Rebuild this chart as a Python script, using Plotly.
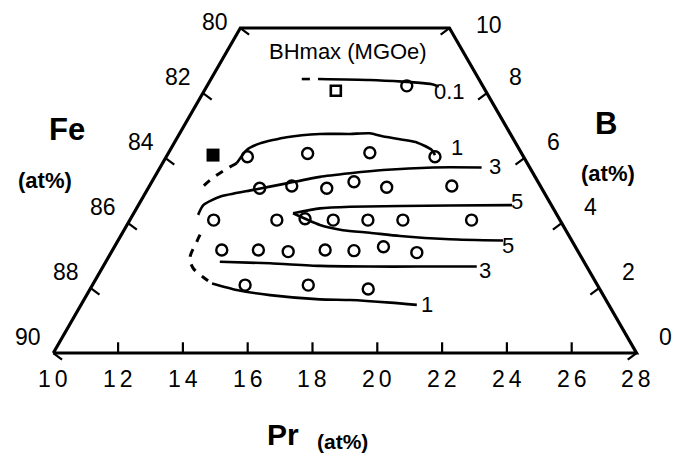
import math
import plotly.graph_objects as go

# ---------------- data ----------------
pr_ticks = [10, 12, 14, 16, 18, 20, 22, 24, 26, 28]
fe_ticks = [80, 82, 84, 86, 88, 90]
b_ticks = [10, 8, 6, 4, 2, 0]

# measured compositions (Pr at%, B at%)
circ_pr = [20.91,
           15.99, 17.85, 19.77, 21.78,
           16.37, 17.36, 18.44, 19.28, 20.29, 22.30,
           14.95, 16.90, 17.77, 18.64, 19.71, 20.79, 22.91,
           15.20, 16.33, 17.25, 18.39, 19.28, 20.19, 21.22,
           15.92, 17.87, 19.72]
circ_b = [8.22,
          6.04, 6.14, 6.16, 6.04,
          5.07, 5.14, 5.07, 5.27, 5.10, 5.14,
          4.09, 4.09, 4.13, 4.09, 4.09, 4.09, 4.09,
          3.17, 3.17, 3.12, 3.17, 3.15, 3.27, 3.09,
          2.09, 2.09, 1.97]
open_sq_pr = [18.72]
open_sq_b = [8.07]
fill_sq_pr = [14.93]
fill_sq_b = [6.09]

# BHmax contours (MGOe)
c01_dash_pr = [17.67, 17.92]
c01_dash_b = [8.43, 8.43]
c01_pr = [18.17, 19.77, 20.79, 21.22, 21.69, 21.90]
c01_b = [8.43, 8.40, 8.35, 8.32, 8.27, 8.20]

c1u_pr = [15.66, 15.97, 16.38, 17.20, 18.23, 19.16, 19.77, 20.19, 21.22, 21.68, 21.78]
c1u_b = [5.84, 6.25, 6.45, 6.64, 6.74, 6.74, 6.76, 6.66, 6.48, 6.25, 6.09]
c1d1_pr = [15.66, 15.24, 14.84, 14.47]
c1d1_b = [5.84, 5.60, 5.32, 4.98]
c1d2_pr = [14.53, 14.44, 14.22, 14.31, 14.62, 14.90]
c1d2_b = [3.64, 3.45, 2.93, 2.62, 2.34, 2.14]
c1l_pr = [14.90, 15.66, 16.69, 18.23, 19.16, 20.40, 21.22]
c1l_b = [2.14, 1.94, 1.78, 1.65, 1.63, 1.55, 1.48]

c3u_pr = [14.47, 14.63, 15.14, 16.17, 17.20, 18.23, 19.16, 20.18, 21.72, 23.22]
c3u_b = [4.25, 4.55, 4.81, 5.02, 5.22, 5.42, 5.53, 5.63, 5.71, 5.71]
c3l_pr = [15.14, 16.69, 18.23, 19.77, 21.22, 23.07]
c3l_b = [2.81, 2.76, 2.68, 2.66, 2.66, 2.66]

c5u_pr = [17.40, 18.23, 19.16, 22.24, 24.16]
c5u_b = [4.30, 4.45, 4.50, 4.54, 4.55]
c5l_pr = [17.40, 18.23, 18.94, 19.77, 20.70, 22.24, 23.88]
c5l_b = [4.30, 3.94, 3.78, 3.70, 3.60, 3.50, 3.46]

contour_labels = ["0.1", "1", "3", "5", "5", "3", "1"]
contour_label_pr = [22.24, 22.45, 23.63, 24.30, 24.03, 23.32, 21.52]
contour_label_b = [8.04, 6.33, 5.73, 4.66, 3.32, 2.55, 1.48]

# ---------------- geometry helpers ----------------
slant = 1 / math.sqrt(3)   # 60 degree side edges
pr_lo, pr_hi, b_top = pr_ticks[0], pr_ticks[-1], b_ticks[0]

def left_edge(b):
    return pr_lo + b * slant

def right_edge(b):
    return pr_hi - b * slant

FONT = "Liberation Sans, Arial, Helvetica, sans-serif"
BLACK = "black"

fig = go.Figure()

# frame
fig.add_trace(go.Scatter(
    x=[pr_lo, left_edge(b_top), right_edge(b_top), pr_hi, pr_lo],
    y=[0, b_top, b_top, 0, 0],
    mode="lines", line=dict(color=BLACK, width=3.2), hoverinfo="skip"))

# tick marks
tx, ty = [], []
for p in pr_ticks[1:-1]:
    tx += [p, p, None]
    ty += [0, 0.33, None]
for b in b_ticks:
    xl = left_edge(b)
    tx += [xl, xl + 0.27, None]
    ty += [b, b - 0.2, None]
    xr = right_edge(b)
    tx += [xr, xr - 0.27, None]
    ty += [b, b - 0.2, None]
fig.add_trace(go.Scatter(x=tx, y=ty, mode="lines",
                         line=dict(color=BLACK, width=2.2), hoverinfo="skip"))

# contours
line_style = dict(color=BLACK, width=2.6)
for xs, ys in [(c01_dash_pr, c01_dash_b), (c01_pr, c01_b), (c1u_pr, c1u_b),
               (c1l_pr, c1l_b), (c3u_pr, c3u_b), (c3l_pr, c3l_b),
               (c5u_pr, c5u_b), (c5l_pr, c5l_b)]:
    fig.add_trace(go.Scatter(x=xs, y=ys, mode="lines", line=dict(line_style, shape="spline", smoothing=0.6),
                             hoverinfo="skip"))
for xs, ys in [(c1d1_pr, c1d1_b), (c1d2_pr, c1d2_b)]:
    fig.add_trace(go.Scatter(x=xs, y=ys, mode="lines",
                             line=dict(color=BLACK, width=3, dash="8px,8px", shape="spline"),
                             hoverinfo="skip"))

# markers
fig.add_trace(go.Scatter(x=circ_pr, y=circ_b, mode="markers",
                         marker=dict(symbol="circle-open", size=11, color=BLACK,
                                     line=dict(width=2.4, color=BLACK)),
                         hoverinfo="skip"))
fig.add_trace(go.Scatter(x=open_sq_pr, y=open_sq_b, mode="markers",
                         marker=dict(symbol="square-open", size=10, color=BLACK,
                                     line=dict(width=2.6, color=BLACK)),
                         hoverinfo="skip"))
fig.add_trace(go.Scatter(x=fill_sq_pr, y=fill_sq_b, mode="markers",
                         marker=dict(symbol="square", size=13, color=BLACK),
                         hoverinfo="skip"))

ann = []
def data_text(t, x, y, size, xshift=0, yshift=0):
    return dict(x=x, y=y, xref="x", yref="y", xshift=xshift, yshift=yshift,
                xanchor="center", yanchor="middle", showarrow=False, text=t,
                font=dict(size=size, family=FONT, color=BLACK))

# bottom Pr tick labels
for p in pr_ticks:
    ann.append(data_text('<span style="letter-spacing:4px">%d</span>' % p, p, 0, 23,
                         xshift=2, yshift=-26))
# Fe labels on left edge
for fe in fe_ticks:
    b = 90 - fe
    xs_, ys_ = (-25, 6) if b == b_top else (-25, 16)
    ann.append(data_text(str(fe), left_edge(b), b, 23, xs_, ys_))
# B labels on right edge
for b in b_ticks:
    xs_, ys_ = (40, 3) if b == b_top else (29, 16)
    ann.append(data_text(str(b), right_edge(b), b, 23, xs_, ys_))
# contour labels
for t, px, py in zip(contour_labels, contour_label_pr, contour_label_b):
    ann.append(data_text(t, px, py, 22))

# titles
def paper_text(t, x, y, size, bold=True):
    return dict(x=x, y=y, xref="paper", yref="paper", showarrow=False,
                xanchor="center", yanchor="middle",
                text=("<b>%s</b>" % t) if bold else t,
                font=dict(size=size, family=FONT, color=BLACK))

ann += [
    paper_text("Fe", 66.5 / 673, 1 - 129 / 455, 31),
    paper_text("(at%)", 45 / 673, 1 - 181 / 455, 22),
    paper_text("B", 606 / 673, 1 - 124 / 455, 31),
    paper_text("(at%)", 608 / 673, 1 - 173 / 455, 22),
    paper_text("Pr", 283 / 673, 1 - 434 / 455, 30),
    paper_text("(at%)", 342 / 673, 1 - 441 / 455, 21),
    paper_text("BHmax (MGOe)", 347.5 / 673, 1 - 51.7 / 455, 22, bold=False),
]

fig.update_layout(
    width=673, height=455,
    margin=dict(l=0, r=0, t=0, b=0),
    paper_bgcolor="white", plot_bgcolor="white",
    showlegend=False,
    xaxis=dict(range=[8.355, 29.127], visible=False, fixedrange=True),
    yaxis=dict(range=[-3.138, 10.862], visible=False, fixedrange=True),
    annotations=ann,
)

fig.write_html("out.html")
